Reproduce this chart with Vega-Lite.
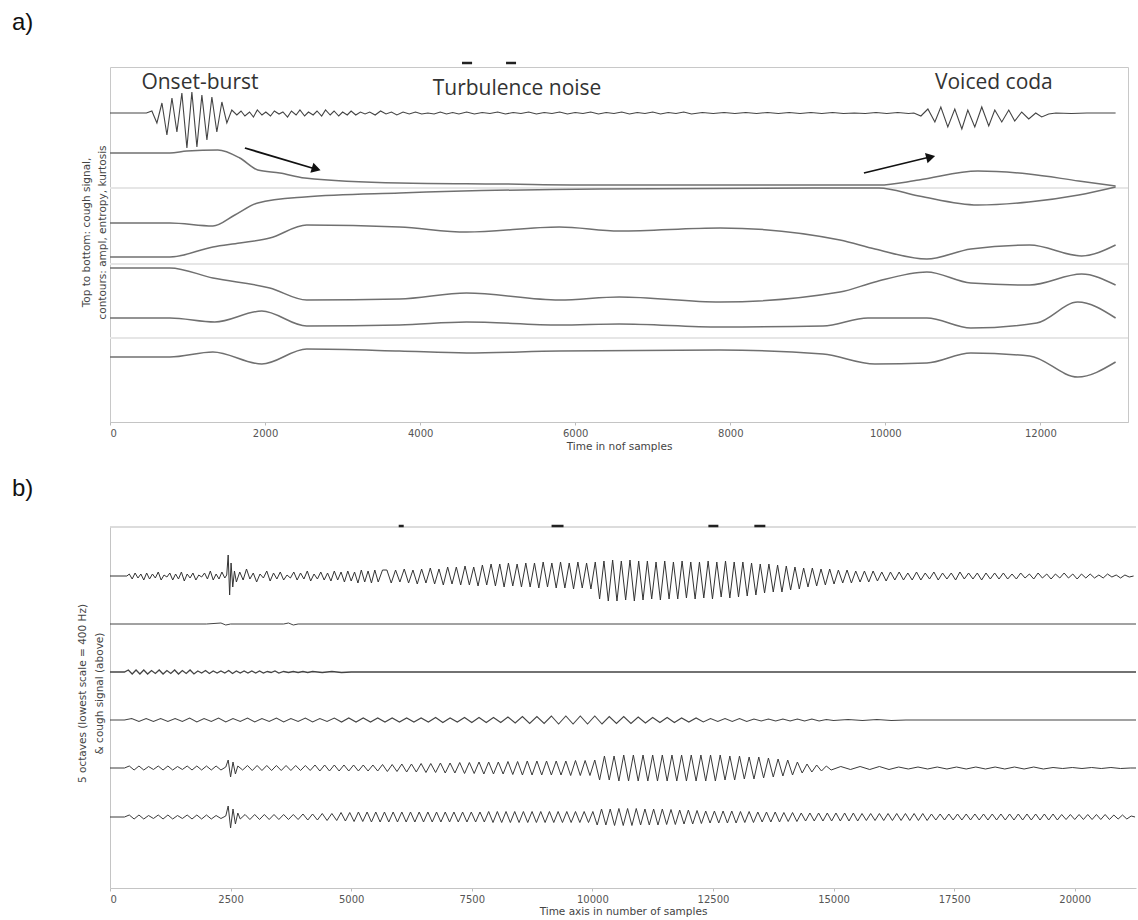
{
"$schema": "https://vega.github.io/schema/vega-lite/v6.json",
"autosize": {"type": "pad"},
"padding": {"left": 11, "top": 10, "right": 0, "bottom": 0},
"background": "white",
"bounds": "flush",
"spacing": 105,
"config": {
  "font": "DejaVu Sans",
  "axis": {"labelFont": "DejaVu Sans", "labelFontSize": 10, "labelColor": "#555", "titleFont": "DejaVu Sans", "titleFontSize": 10.5, "titleFontWeight": "normal", "titleColor": "#444", "tickColor": "#bbb", "domainColor": "#c4c4c4", "grid": false, "tickSize": 3, "labelPadding": 3}
},
"datasets": {
"asig": [{"x":0,"y":46},{"x":470,"y":46},{"x":540,"y":44},{"x":605,"y":56},{"x":670,"y":36},{"x":734,"y":68},{"x":799,"y":31},{"x":863,"y":65},{"x":927,"y":26},{"x":992,"y":81},{"x":1056,"y":25},{"x":1121,"y":80},{"x":1185,"y":28},{"x":1250,"y":73},{"x":1314,"y":30},{"x":1378,"y":65},{"x":1443,"y":35},{"x":1507,"y":56},{"x":1571,"y":43},{"x":1636,"y":48},
{"x":1690,"y":44},{"x":1740,"y":49},{"x":1800,"y":45},{"x":1850,"y":50},{"x":1900,"y":43},{"x":1960,"y":48},{"x":2010,"y":45},{"x":2070,"y":49},{"x":2120,"y":44},{"x":2180,"y":47},{"x":2230,"y":45},{"x":2290,"y":50},{"x":2340,"y":44},{"x":2400,"y":48},{"x":2450,"y":43},{"x":2510,"y":49},{"x":2560,"y":45},{"x":2620,"y":48},{"x":2670,"y":44},{"x":2730,"y":49},{"x":2780,"y":43},{"x":2840,"y":48},{"x":2890,"y":44},{"x":2950,"y":49},{"x":3000,"y":45},{"x":3060,"y":48},{"x":3110,"y":44},{"x":3170,"y":48},{"x":3230,"y":45},{"x":3290,"y":47},{"x":3350,"y":45},{"x":3420,"y":48},{"x":3490,"y":44},{"x":3560,"y":47},{"x":3630,"y":45},{"x":3700,"y":48},{"x":3780,"y":45},{"x":3860,"y":47},{"x":3940,"y":45},{"x":4020,"y":47},{"x":4100,"y":46},{"x":4180,"y":47},{"x":4260,"y":45},{"x":4340,"y":47},{"x":4420,"y":45.5},{"x":4500,"y":47},{"x":4600,"y":45},{"x":4700,"y":47},{"x":4800,"y":45.5},{"x":4900,"y":46.5},{"x":5000,"y":45},{"x":5100,"y":47},{"x":5200,"y":45.5},{"x":5300,"y":46.5},{"x":5400,"y":45},{"x":5500,"y":47},{"x":5600,"y":45.5},{"x":5700,"y":46.5},{"x":5800,"y":45},{"x":5900,"y":47},{"x":6000,"y":45.5},{"x":6100,"y":46.5},{"x":6200,"y":45},{"x":6300,"y":47},{"x":6400,"y":45.5},{"x":6500,"y":46.5},{"x":6600,"y":45},{"x":6700,"y":47},{"x":6800,"y":45.5},{"x":6900,"y":46.5},{"x":7000,"y":45},{"x":7100,"y":47},{"x":7200,"y":45.5},{"x":7300,"y":46.5},{"x":7400,"y":45},{"x":7500,"y":47},
{"x":7640,"y":45.5},{"x":7780,"y":46.5},{"x":7920,"y":45.5},{"x":8060,"y":46.5},{"x":8200,"y":45.5},{"x":8340,"y":46.5},{"x":8480,"y":45.5},{"x":8620,"y":46.5},{"x":8760,"y":45.5},{"x":8900,"y":46.5},{"x":9040,"y":45.5},{"x":9180,"y":46.5},{"x":9320,"y":45.5},{"x":9460,"y":46.5},{"x":9600,"y":46},{"x":9740,"y":46.5},{"x":9880,"y":45.5},{"x":10020,"y":46.5},{"x":10160,"y":45.5},{"x":10300,"y":46.5},
{"x":10368,"y":46},{"x":10459,"y":49},{"x":10549,"y":42},{"x":10639,"y":55},{"x":10716,"y":40},{"x":10806,"y":60},{"x":10896,"y":42},{"x":10987,"y":62},{"x":11064,"y":43},{"x":11154,"y":60},{"x":11244,"y":40},{"x":11334,"y":59},{"x":11412,"y":43},{"x":11502,"y":55},{"x":11592,"y":43},{"x":11669,"y":54},{"x":11759,"y":45},{"x":11850,"y":52},{"x":11940,"y":46},{"x":12017,"y":50},{"x":12107,"y":47},{"x":12200,"y":46},{"x":12400,"y":46.5},{"x":12600,"y":46},{"x":12800,"y":46},{"x":12970,"y":46}],
"acont": [
{"k":"L2","x":0,"y":86},{"k":"L2","x":773,"y":86},{"k":"L2","x":992,"y":84},{"k":"L2","x":1391,"y":83},{"k":"L2","x":1674,"y":91},{"k":"L2","x":1906,"y":103},{"k":"L2","x":2190,"y":106},{"k":"L2","x":2512,"y":111},{"k":"L2","x":3735,"y":116},{"k":"L2","x":5023,"y":117},{"k":"L2","x":6311,"y":118},{"k":"L2","x":9918,"y":118},{"k":"L2","x":10433,"y":113},{"k":"L2","x":11193,"y":104},{"k":"L2","x":11850,"y":107},{"k":"L2","x":12494,"y":114},{"k":"L2","x":12970,"y":119},
{"k":"L3","x":0,"y":156},{"k":"L3","x":773,"y":156},{"k":"L3","x":1327,"y":159},{"k":"L3","x":1610,"y":148},{"k":"L3","x":1906,"y":136},{"k":"L3","x":2512,"y":130},{"k":"L3","x":3735,"y":126},{"k":"L3","x":6311,"y":122},{"k":"L3","x":9918,"y":121},{"k":"L3","x":10433,"y":129},{"k":"L3","x":11193,"y":138},{"k":"L3","x":11850,"y":135},{"k":"L3","x":12494,"y":128},{"k":"L3","x":12970,"y":120},
{"k":"L4","x":0,"y":190},{"k":"L4","x":773,"y":190},{"k":"L4","x":1327,"y":180},{"k":"L4","x":1674,"y":176},{"k":"L4","x":2061,"y":171},{"k":"L4","x":2537,"y":158},{"k":"L4","x":3735,"y":160},{"k":"L4","x":4598,"y":165},{"k":"L4","x":5796,"y":160},{"k":"L4","x":6569,"y":164},{"k":"L4","x":7870,"y":161},{"k":"L4","x":9415,"y":173},{"k":"L4","x":9866,"y":182},{"k":"L4","x":10536,"y":192},{"k":"L4","x":11103,"y":182},{"k":"L4","x":11862,"y":178},{"k":"L4","x":12532,"y":189},{"k":"L4","x":12970,"y":178},
{"k":"L5","x":0,"y":201},{"k":"L5","x":773,"y":201},{"k":"L5","x":1327,"y":211},{"k":"L5","x":2061,"y":221},{"k":"L5","x":2537,"y":233},{"k":"L5","x":3735,"y":232},{"k":"L5","x":4598,"y":226},{"k":"L5","x":5796,"y":233},{"k":"L5","x":6569,"y":230},{"k":"L5","x":7870,"y":235},{"k":"L5","x":9415,"y":225},{"k":"L5","x":9866,"y":215},{"k":"L5","x":10536,"y":205},{"k":"L5","x":11103,"y":216},{"k":"L5","x":11862,"y":218},{"k":"L5","x":12532,"y":207},{"k":"L5","x":12970,"y":218},
{"k":"L6","x":0,"y":251},{"k":"L6","x":773,"y":251},{"k":"L6","x":1352,"y":255},{"k":"L6","x":1958,"y":244},{"k":"L6","x":2537,"y":259},{"k":"L6","x":3735,"y":258},{"k":"L6","x":4598,"y":255},{"k":"L6","x":5796,"y":258},{"k":"L6","x":6569,"y":257},{"k":"L6","x":7870,"y":260},{"k":"L6","x":9196,"y":259},{"k":"L6","x":9776,"y":251},{"k":"L6","x":10536,"y":251},{"k":"L6","x":11103,"y":261},{"k":"L6","x":11953,"y":256},{"k":"L6","x":12481,"y":235},{"k":"L6","x":12970,"y":251},
{"k":"L7","x":0,"y":290},{"k":"L7","x":773,"y":290},{"k":"L7","x":1327,"y":285},{"k":"L7","x":1958,"y":297},{"k":"L7","x":2537,"y":282},{"k":"L7","x":3735,"y":284},{"k":"L7","x":4598,"y":286},{"k":"L7","x":5796,"y":284},{"k":"L7","x":7870,"y":283},{"k":"L7","x":9196,"y":287},{"k":"L7","x":9866,"y":297},{"k":"L7","x":10536,"y":296},{"k":"L7","x":11103,"y":286},{"k":"L7","x":11862,"y":289},{"k":"L7","x":12481,"y":310},{"k":"L7","x":12970,"y":295}],
"b1": [{"x":0,"y":49},{"x":350,"y":49},{"x":400,"y":47},{"x":460,"y":52},{"x":520,"y":46},{"x":580,"y":51},{"x":640,"y":47},{"x":700,"y":53},{"x":760,"y":46},{"x":820,"y":52},{"x":880,"y":47},{"x":940,"y":51},{"x":1000,"y":45},{"x":1060,"y":53},{"x":1120,"y":48},{"x":1180,"y":50},{"x":1240,"y":46},{"x":1300,"y":53},{"x":1360,"y":47},{"x":1420,"y":52},{"x":1480,"y":45},{"x":1540,"y":54},{"x":1600,"y":47},{"x":1660,"y":51},{"x":1720,"y":46},{"x":1780,"y":53},{"x":1840,"y":48},{"x":1900,"y":50},{"x":1960,"y":46},{"x":2020,"y":52},{"x":2080,"y":44},{"x":2140,"y":53},{"x":2200,"y":47},{"x":2260,"y":52},{"x":2320,"y":45},{"x":2380,"y":51},
{"x":2420,"y":48},{"x":2450,"y":28},{"x":2480,"y":68},{"x":2510,"y":36},{"x":2545,"y":60},{"x":2580,"y":44},{"x":2620,"y":55},
{"x":2690,"y":45},{"x":2760,"y":53},{"x":2830,"y":42},{"x":2900,"y":52},{"x":2970,"y":46},{"x":3040,"y":55},{"x":3110,"y":47},{"x":3180,"y":51},{"x":3250,"y":44},{"x":3320,"y":54},{"x":3390,"y":46},{"x":3460,"y":52},{"x":3530,"y":45},{"x":3600,"y":53},{"x":3670,"y":48},{"x":3740,"y":51},{"x":3810,"y":45},{"x":3880,"y":53},{"x":3950,"y":46},{"x":4020,"y":52},{"x":4090,"y":44},{"x":4160,"y":54},{"x":4230,"y":47},{"x":4300,"y":52},{"x":4370,"y":45},{"x":4440,"y":53},{"x":4510,"y":46},{"x":4580,"y":54},{"x":4650,"y":44},{"x":4720,"y":53},{"x":4790,"y":45},{"x":4860,"y":55},{"x":4930,"y":44},{"x":5000,"y":54},{"x":5070,"y":45},{"x":5140,"y":56},{"x":5210,"y":43},{"x":5280,"y":55},{"x":5350,"y":44},{"x":5420,"y":56},{"x":5490,"y":43},{"x":5560,"y":55},{"x":5650,"y":43},
{"x":5740,"y":43},{"x":5830,"y":56},{"x":5920,"y":43},{"x":6010,"y":55},{"x":6100,"y":42},{"x":6190,"y":56},{"x":6280,"y":43},{"x":6370,"y":57},{"x":6460,"y":42},{"x":6550,"y":56},{"x":6640,"y":41},{"x":6730,"y":57},{"x":6820,"y":42},{"x":6910,"y":58},{"x":7000,"y":40},{"x":7090,"y":57},{"x":7180,"y":40},{"x":7270,"y":58},{"x":7360,"y":39},{"x":7450,"y":58},{"x":7540,"y":40},{"x":7630,"y":59},{"x":7720,"y":38},{"x":7810,"y":58},{"x":7900,"y":37},{"x":7990,"y":59},{"x":8080,"y":37},{"x":8170,"y":60},{"x":8260,"y":36},{"x":8350,"y":59},{"x":8440,"y":37},{"x":8530,"y":60},{"x":8620,"y":36},{"x":8710,"y":60},{"x":8800,"y":36},{"x":8890,"y":61},{"x":8980,"y":35},{"x":9070,"y":60},{"x":9160,"y":36},{"x":9250,"y":61},{"x":9340,"y":35},{"x":9430,"y":61},{"x":9520,"y":36},{"x":9610,"y":62},{"x":9700,"y":35},{"x":9790,"y":61},{"x":9880,"y":36},{"x":9970,"y":62},{"x":10060,"y":35},{"x":10150,"y":72},{"x":10240,"y":34},{"x":10330,"y":74},{"x":10420,"y":33},{"x":10510,"y":74},{"x":10600,"y":34},{"x":10690,"y":73},{"x":10780,"y":33},{"x":10870,"y":74},{"x":10960,"y":34},{"x":11050,"y":73},{"x":11140,"y":34},{"x":11230,"y":72},{"x":11320,"y":35},{"x":11410,"y":73},{"x":11500,"y":34},{"x":11590,"y":72},{"x":11680,"y":35},{"x":11770,"y":72},{"x":11860,"y":34},{"x":11950,"y":71},{"x":12040,"y":35},{"x":12130,"y":72},{"x":12220,"y":35},{"x":12310,"y":71},{"x":12400,"y":34},{"x":12490,"y":72},{"x":12580,"y":35},{"x":12670,"y":70},{"x":12760,"y":34},{"x":12850,"y":71},{"x":12940,"y":35},{"x":13030,"y":70},{"x":13120,"y":35},{"x":13210,"y":69},{"x":13300,"y":36},{"x":13390,"y":68},{"x":13480,"y":37},{"x":13570,"y":66},{"x":13660,"y":37},{"x":13750,"y":65},{"x":13840,"y":38},{"x":13930,"y":65},{"x":14020,"y":39},{"x":14110,"y":63},{"x":14200,"y":40},{"x":14290,"y":62},{"x":14380,"y":41},{"x":14470,"y":60},{"x":14560,"y":41},{"x":14650,"y":59},{"x":14740,"y":42},{"x":14830,"y":58},{"x":14920,"y":42},{"x":15010,"y":57},{"x":15100,"y":43},{"x":15190,"y":56},{"x":15280,"y":43},{"x":15370,"y":56},{"x":15460,"y":44},{"x":15550,"y":55},{"x":15640,"y":44},{"x":15730,"y":55},{"x":15820,"y":44},{"x":15910,"y":54},{"x":16000,"y":45},{"x":16090,"y":54},{"x":16180,"y":45},{"x":16270,"y":53},{"x":16360,"y":45},{"x":16450,"y":53},{"x":16540,"y":46},{"x":16630,"y":53},{"x":16720,"y":45},{"x":16810,"y":53},{"x":16900,"y":46},{"x":16990,"y":52},{"x":17080,"y":45},{"x":17170,"y":53},{"x":17260,"y":46},{"x":17350,"y":52},{"x":17440,"y":46},{"x":17530,"y":53},{"x":17620,"y":45},{"x":17710,"y":52},{"x":17800,"y":46},{"x":17890,"y":52},{"x":17980,"y":46},{"x":18070,"y":53},{"x":18160,"y":46},{"x":18250,"y":52},{"x":18340,"y":46},{"x":18430,"y":52},{"x":18520,"y":46},{"x":18610,"y":52},{"x":18700,"y":47},{"x":18790,"y":52},{"x":18880,"y":46},{"x":18970,"y":51},{"x":19060,"y":47},{"x":19150,"y":52},{"x":19240,"y":46},{"x":19330,"y":51},{"x":19420,"y":47},{"x":19510,"y":52},{"x":19600,"y":47},{"x":19690,"y":51},{"x":19780,"y":46},{"x":19870,"y":51},{"x":19960,"y":47},{"x":20050,"y":52},{"x":20140,"y":47},{"x":20230,"y":51},{"x":20320,"y":47},{"x":20410,"y":51},{"x":20500,"y":48},{"x":20590,"y":51},{"x":20680,"y":47},{"x":20770,"y":50},{"x":20860,"y":48},{"x":20950,"y":51},{"x":21040,"y":48},{"x":21130,"y":50},{"x":21220,"y":49}],
"b2": [{"x":0,"y":97},{"x":2000,"y":97},{"x":2300,"y":96},{"x":2400,"y":98},{"x":2500,"y":97},{"x":3600,"y":97},{"x":3700,"y":96},{"x":3800,"y":98},{"x":3900,"y":97},{"x":21270,"y":97}],
"b3": [{"x":0,"y":145},{"x":300,"y":145},{"x":380,"y":143},{"x":460,"y":147},{"x":540,"y":143},{"x":620,"y":147},{"x":700,"y":143},{"x":780,"y":147},{"x":860,"y":143.5},{"x":940,"y":146.5},{"x":1020,"y":143},{"x":1100,"y":147},{"x":1180,"y":143.5},{"x":1260,"y":146.5},{"x":1340,"y":143},{"x":1420,"y":147},{"x":1500,"y":143.5},{"x":1580,"y":146.5},{"x":1660,"y":143},{"x":1740,"y":147},{"x":1820,"y":144},{"x":1900,"y":146},{"x":1980,"y":143.5},{"x":2060,"y":146.5},{"x":2140,"y":144},{"x":2220,"y":146},{"x":2300,"y":144},{"x":2380,"y":146},{"x":2460,"y":143.5},{"x":2540,"y":146.5},{"x":2620,"y":144},{"x":2700,"y":146},{"x":2780,"y":144},{"x":2860,"y":146},{"x":2940,"y":144},{"x":3020,"y":146},{"x":3100,"y":144},{"x":3180,"y":146},{"x":3260,"y":144.5},{"x":3340,"y":145.5},{"x":3420,"y":144},{"x":3500,"y":146},{"x":3600,"y":144.5},{"x":3700,"y":145.5},{"x":3800,"y":144.5},{"x":3900,"y":145.5},{"x":4000,"y":144.5},{"x":4100,"y":145.5},{"x":4200,"y":144.5},{"x":4400,"y":145.5},{"x":4600,"y":144.5},{"x":4800,"y":145.5},{"x":5000,"y":145},{"x":21270,"y":145}],
"b4": [{"x":0,"y":193},{"x":300,"y":193},{"x":450,"y":191.5},{"x":600,"y":194.5},{"x":750,"y":191.5},{"x":900,"y":194.5},{"x":1050,"y":191.5},{"x":1200,"y":194.5},{"x":1350,"y":191.5},{"x":1500,"y":194.5},{"x":1650,"y":191},{"x":1800,"y":195},{"x":1950,"y":191.5},{"x":2100,"y":194.5},{"x":2250,"y":191},{"x":2400,"y":195},{"x":2550,"y":191.5},{"x":2700,"y":194.5},{"x":2850,"y":191},{"x":3000,"y":195},{"x":3150,"y":191.5},{"x":3300,"y":194.5},{"x":3450,"y":191},{"x":3600,"y":195},{"x":3750,"y":191.5},{"x":3900,"y":194.5},{"x":4050,"y":191},{"x":4200,"y":195},{"x":4350,"y":191.5},{"x":4500,"y":194.5},{"x":4650,"y":191},{"x":4800,"y":195},{"x":4950,"y":191},{"x":5100,"y":195},{"x":5250,"y":191},{"x":5400,"y":195},{"x":5550,"y":191},{"x":5700,"y":195},{"x":5850,"y":191},{"x":6000,"y":195},{"x":6150,"y":191},{"x":6300,"y":195},{"x":6450,"y":191},{"x":6600,"y":195},{"x":6750,"y":190.5},{"x":6900,"y":195.5},{"x":7050,"y":191},{"x":7200,"y":195},{"x":7350,"y":190.5},{"x":7500,"y":195.5},{"x":7650,"y":190.5},{"x":7800,"y":195.5},{"x":7950,"y":190.5},{"x":8100,"y":195.5},{"x":8250,"y":190},{"x":8400,"y":196},{"x":8550,"y":189.5},{"x":8700,"y":196.5},{"x":8850,"y":189.5},{"x":9000,"y":196.5},{"x":9150,"y":189},{"x":9300,"y":197},{"x":9450,"y":189},{"x":9600,"y":197},{"x":9750,"y":189},{"x":9900,"y":197},{"x":10050,"y":189},{"x":10200,"y":197},{"x":10350,"y":189.5},{"x":10500,"y":196.5},{"x":10650,"y":189.5},{"x":10800,"y":196.5},{"x":10950,"y":190},{"x":11100,"y":196},{"x":11250,"y":190.5},{"x":11400,"y":195.5},{"x":11550,"y":190.5},{"x":11700,"y":195.5},{"x":11850,"y":191},{"x":12000,"y":195},{"x":12150,"y":191},{"x":12300,"y":195},{"x":12450,"y":191.5},{"x":12600,"y":194.5},{"x":12750,"y":191.5},{"x":12900,"y":194.5},{"x":13050,"y":191.5},{"x":13200,"y":194.5},{"x":13350,"y":192},{"x":13500,"y":194},{"x":13650,"y":192},{"x":13800,"y":194},{"x":13950,"y":192},{"x":14100,"y":194},{"x":14250,"y":192},{"x":14400,"y":194},{"x":14550,"y":192},{"x":14700,"y":194},{"x":14850,"y":192.5},{"x":15000,"y":193.5},{"x":15300,"y":192.5},{"x":15600,"y":193.5},{"x":15900,"y":192.5},{"x":16200,"y":193.5},{"x":16500,"y":193},{"x":21270,"y":193}],
"b5": [{"x":0,"y":241},{"x":300,"y":241},{"x":400,"y":239},{"x":500,"y":243},{"x":600,"y":239},{"x":700,"y":243},{"x":800,"y":239.5},{"x":900,"y":242.5},{"x":1000,"y":239},{"x":1100,"y":243},{"x":1200,"y":239},{"x":1300,"y":243},{"x":1400,"y":239.5},{"x":1500,"y":242.5},{"x":1600,"y":239},{"x":1700,"y":243},{"x":1800,"y":239},{"x":1900,"y":243},{"x":2000,"y":239},{"x":2100,"y":243},{"x":2200,"y":239},{"x":2300,"y":243},{"x":2400,"y":240},
{"x":2450,"y":233},{"x":2500,"y":250},{"x":2550,"y":235},{"x":2600,"y":247},{"x":2650,"y":239},
{"x":2750,"y":243},{"x":2850,"y":238.5},{"x":2950,"y":243.5},{"x":3050,"y":238.5},{"x":3150,"y":243.5},{"x":3250,"y":238.5},{"x":3350,"y":243.5},{"x":3450,"y":238.5},{"x":3550,"y":243.5},{"x":3650,"y":238.5},{"x":3750,"y":243.5},{"x":3850,"y":238.5},{"x":3950,"y":243.5},{"x":4050,"y":238.5},{"x":4150,"y":243.5},{"x":4250,"y":238},{"x":4350,"y":244},{"x":4450,"y":238},{"x":4550,"y":244},{"x":4650,"y":238},{"x":4750,"y":244},{"x":4850,"y":238},{"x":4950,"y":244},{"x":5050,"y":238},{"x":5150,"y":244},{"x":5250,"y":238},{"x":5350,"y":244},{"x":5450,"y":238},{"x":5550,"y":244},{"x":5650,"y":237.5},{"x":5750,"y":244.5},{"x":5850,"y":237.5},{"x":5950,"y":244.5},
{"x":6050,"y":237},{"x":6150,"y":245},{"x":6250,"y":237},{"x":6350,"y":245},{"x":6450,"y":236.5},{"x":6550,"y":245.5},{"x":6650,"y":236.5},{"x":6750,"y":245.5},{"x":6850,"y":236},{"x":6950,"y":246},{"x":7050,"y":236},{"x":7150,"y":246},{"x":7250,"y":235.5},{"x":7350,"y":246.5},{"x":7450,"y":235.5},{"x":7550,"y":246.5},{"x":7650,"y":235},{"x":7750,"y":247},{"x":7850,"y":235},{"x":7950,"y":247},{"x":8050,"y":235},{"x":8150,"y":247},{"x":8250,"y":234.5},{"x":8350,"y":247.5},{"x":8450,"y":234.5},
{"x":8550,"y":248},{"x":8650,"y":234},{"x":8750,"y":248},{"x":8850,"y":234},{"x":8950,"y":248},{"x":9050,"y":234},{"x":9150,"y":248},{"x":9250,"y":234},{"x":9350,"y":248},{"x":9450,"y":234},{"x":9550,"y":248.5},{"x":9650,"y":233.5},{"x":9750,"y":248.5},{"x":9850,"y":233.5},{"x":9950,"y":248.5},{"x":10050,"y":233},
{"x":10150,"y":253},{"x":10250,"y":229},{"x":10350,"y":253},{"x":10450,"y":229},{"x":10550,"y":254},{"x":10650,"y":228},{"x":10750,"y":254},{"x":10850,"y":228},{"x":10950,"y":254},{"x":11050,"y":228},{"x":11150,"y":254},{"x":11250,"y":228},{"x":11350,"y":254},{"x":11450,"y":228},{"x":11550,"y":254},{"x":11650,"y":228},{"x":11750,"y":254},{"x":11850,"y":228},{"x":11950,"y":254},{"x":12050,"y":228},{"x":12150,"y":254},{"x":12250,"y":228},{"x":12350,"y":254},{"x":12450,"y":228},{"x":12550,"y":254},{"x":12650,"y":228},{"x":12750,"y":253},{"x":12850,"y":229},{"x":12950,"y":253},{"x":13050,"y":229},{"x":13150,"y":252},{"x":13250,"y":230},{"x":13350,"y":252},{"x":13450,"y":230},{"x":13550,"y":251},{"x":13650,"y":231},{"x":13750,"y":250},{"x":13850,"y":232},
{"x":13950,"y":249},{"x":14050,"y":233},{"x":14150,"y":248},{"x":14250,"y":235},{"x":14350,"y":246},{"x":14450,"y":237},{"x":14550,"y":245},{"x":14650,"y":238},{"x":14750,"y":244},{"x":14850,"y":239},{"x":14950,"y":243},
{"x":15150,"y":239.5},{"x":15350,"y":242.5},{"x":15550,"y":239.5},{"x":15750,"y":242.5},{"x":15950,"y":239.5},{"x":16150,"y":242.5},{"x":16350,"y":240},{"x":16550,"y":242},{"x":16750,"y":240},{"x":16950,"y":242},{"x":17150,"y":240},{"x":17350,"y":242},{"x":17550,"y":240},{"x":17750,"y":242},{"x":17950,"y":240},{"x":18150,"y":242},{"x":18350,"y":240},{"x":18550,"y":242},{"x":18750,"y":240},{"x":18950,"y":242},{"x":19150,"y":240},{"x":19350,"y":242},{"x":19550,"y":240.5},{"x":19750,"y":241.5},{"x":19950,"y":240.5},{"x":20150,"y":241.5},{"x":20350,"y":240.5},{"x":20550,"y":241.5},{"x":20750,"y":240.5},{"x":20950,"y":241.5},{"x":21150,"y":241},{"x":21270,"y":241}],
"b6": [{"x":0,"y":290},{"x":300,"y":290},{"x":400,"y":288},{"x":500,"y":292},{"x":600,"y":288},{"x":700,"y":292},{"x":800,"y":288.5},{"x":900,"y":291.5},{"x":1000,"y":288},{"x":1100,"y":292},{"x":1200,"y":288},{"x":1300,"y":292},{"x":1400,"y":288.5},{"x":1500,"y":291.5},{"x":1600,"y":288},{"x":1700,"y":292},{"x":1800,"y":288},{"x":1900,"y":292},{"x":2000,"y":288},{"x":2100,"y":292},{"x":2200,"y":288.5},{"x":2300,"y":291.5},{"x":2400,"y":289},
{"x":2450,"y":279},{"x":2500,"y":301},{"x":2550,"y":282},{"x":2600,"y":297},{"x":2650,"y":286},{"x":2700,"y":292},
{"x":2800,"y":287.5},{"x":2900,"y":292.5},{"x":3000,"y":287.5},{"x":3100,"y":292.5},{"x":3200,"y":287.5},{"x":3300,"y":292.5},{"x":3400,"y":287.5},{"x":3500,"y":292.5},{"x":3600,"y":287.5},{"x":3700,"y":292.5},{"x":3800,"y":287.5},{"x":3900,"y":292.5},{"x":4000,"y":287},{"x":4100,"y":293},{"x":4200,"y":287},{"x":4300,"y":293},{"x":4400,"y":286.5},{"x":4500,"y":293.5},{"x":4600,"y":286.5},{"x":4700,"y":293.5},
{"x":4790,"y":285.5},{"x":4880,"y":294},{"x":4970,"y":285.5},{"x":5060,"y":294.5},{"x":5150,"y":285},{"x":5240,"y":294.5},{"x":5330,"y":285},{"x":5420,"y":295},{"x":5510,"y":285},{"x":5600,"y":295},{"x":5690,"y":285},{"x":5780,"y":295},{"x":5870,"y":285},{"x":5960,"y":295},{"x":6050,"y":285},{"x":6140,"y":295},{"x":6230,"y":285},{"x":6320,"y":295},{"x":6410,"y":285},{"x":6500,"y":295},{"x":6590,"y":285},{"x":6680,"y":295},{"x":6770,"y":285},{"x":6860,"y":295},{"x":6950,"y":285},{"x":7040,"y":295},{"x":7130,"y":285},{"x":7220,"y":295},{"x":7310,"y":285},{"x":7400,"y":295},{"x":7490,"y":285},{"x":7580,"y":295},{"x":7670,"y":285},{"x":7760,"y":295},{"x":7850,"y":284.5},{"x":7940,"y":295.5},{"x":8030,"y":284.5},{"x":8120,"y":295.5},{"x":8210,"y":284.5},{"x":8300,"y":295.5},{"x":8390,"y":284.5},{"x":8480,"y":295.5},{"x":8570,"y":284.5},{"x":8660,"y":295.5},{"x":8750,"y":284.5},{"x":8840,"y":295.5},{"x":8930,"y":284.5},{"x":9020,"y":295.5},{"x":9110,"y":284.5},{"x":9200,"y":295.5},{"x":9290,"y":284.5},{"x":9380,"y":295.5},{"x":9470,"y":284.5},{"x":9560,"y":295.5},{"x":9650,"y":284.5},{"x":9740,"y":295.5},{"x":9830,"y":284.5},{"x":9920,"y":295.5},{"x":10010,"y":284.5},
{"x":10100,"y":298},{"x":10190,"y":282},{"x":10280,"y":298},{"x":10370,"y":282},{"x":10460,"y":298.5},{"x":10550,"y":281.5},{"x":10640,"y":298.5},{"x":10730,"y":281.5},{"x":10820,"y":298.5},{"x":10910,"y":281.5},{"x":11000,"y":298},{"x":11090,"y":282},{"x":11180,"y":298},{"x":11270,"y":282},{"x":11360,"y":298},{"x":11450,"y":282},{"x":11540,"y":297.5},{"x":11630,"y":282.5},{"x":11720,"y":297.5},{"x":11810,"y":283},{"x":11900,"y":297},{"x":11990,"y":283},{"x":12080,"y":297},{"x":12170,"y":283.5},{"x":12260,"y":296.5},
{"x":12350,"y":284},{"x":12440,"y":296},{"x":12530,"y":284},{"x":12620,"y":296},{"x":12710,"y":284},{"x":12800,"y":296},{"x":12890,"y":284},{"x":12980,"y":296},{"x":13070,"y":284.5},{"x":13160,"y":295.5},{"x":13250,"y":284.5},{"x":13340,"y":295.5},{"x":13430,"y":285},{"x":13520,"y":295},{"x":13610,"y":285},{"x":13700,"y":295},{"x":13790,"y":285},{"x":13880,"y":295},{"x":13970,"y":285.5},{"x":14060,"y":294.5},{"x":14150,"y":285.5},{"x":14240,"y":294.5},{"x":14330,"y":286},
{"x":14420,"y":294},{"x":14510,"y":286},{"x":14600,"y":294},{"x":14690,"y":286},{"x":14780,"y":294},{"x":14870,"y":286},{"x":14960,"y":294},{"x":15050,"y":286},{"x":15140,"y":294},{"x":15230,"y":286},{"x":15320,"y":294},{"x":15410,"y":286},{"x":15500,"y":294},{"x":15590,"y":286.5},{"x":15680,"y":293.5},{"x":15770,"y":286.5},{"x":15860,"y":293.5},{"x":15950,"y":286.5},{"x":16040,"y":293.5},{"x":16130,"y":286.5},{"x":16220,"y":293.5},{"x":16310,"y":286.5},{"x":16400,"y":293.5},{"x":16490,"y":286.5},{"x":16580,"y":293.5},{"x":16670,"y":286.5},{"x":16760,"y":293.5},{"x":16850,"y":286.5},{"x":16940,"y":293.5},{"x":17030,"y":287},{"x":17120,"y":293},{"x":17210,"y":287},{"x":17300,"y":293},{"x":17390,"y":287},{"x":17480,"y":293},{"x":17570,"y":287},{"x":17660,"y":293},{"x":17750,"y":287},{"x":17840,"y":293},{"x":17930,"y":287},{"x":18020,"y":293},{"x":18110,"y":287},{"x":18200,"y":293},{"x":18290,"y":287},{"x":18380,"y":293},{"x":18470,"y":287},{"x":18560,"y":293},{"x":18650,"y":287},{"x":18740,"y":293},{"x":18830,"y":287},{"x":18920,"y":293},{"x":19010,"y":287},{"x":19100,"y":293},{"x":19190,"y":287},{"x":19280,"y":293},{"x":19370,"y":287},{"x":19460,"y":293},{"x":19550,"y":287},{"x":19640,"y":293},{"x":19730,"y":287.5},{"x":19820,"y":292.5},{"x":19910,"y":287.5},{"x":20000,"y":292.5},{"x":20090,"y":287.5},{"x":20180,"y":292.5},{"x":20270,"y":287.5},{"x":20360,"y":292.5},{"x":20450,"y":287.5},{"x":20540,"y":292.5},{"x":20630,"y":287.5},{"x":20720,"y":292.5},{"x":20810,"y":288},{"x":20900,"y":292},{"x":20990,"y":288},{"x":21080,"y":292},{"x":21170,"y":289},{"x":21250,"y":290}]
},
"vconcat": [
{
  "width": 1018, "height": 355,
  "view": {"stroke": "#c8c8c8"},
  "title": {"text": "a)", "anchor": "start", "frame": "group", "dx": -98, "offset": 27, "fontSize": 24, "font": "Liberation Sans", "fontWeight": "normal", "color": "#111"},
  "encoding": {
    "x": {"field": "x", "type": "quantitative", "scale": {"domain": [0, 13130], "nice": false, "zero": false},
          "axis": {"title": "Time in nof samples", "values": [0, 2000, 4000, 6000, 8000, 10000, 12000], "format": "d", "titlePadding": 3}},
    "y": {"field": "y", "type": "quantitative", "scale": {"domain": [0, 355], "reverse": true, "nice": false, "zero": false},
          "axis": {"title": ["Top to bottom: cough signal,", "contours: ampl, entropy, kurtosis"], "labels": false, "ticks": false, "domain": false, "titleX": -24, "titleY": 165, "titleAngle": 270, "titleBaseline": "middle", "titleAlign": "center", "titleLineHeight": 16}}
  },
  "layer": [
    {"data": {"values": [{"y": 121, "x": 0, "x2": 13130}, {"y": 197, "x": 0, "x2": 13130}, {"y": 271, "x": 0, "x2": 13130}]},
     "mark": {"type": "rule", "color": "#e6e6e6", "strokeWidth": 2},
     "encoding": {"x2": {"field": "x2"}}},
    {"data": {"values": [{"y": -4, "x": 4540, "x2": 4670}, {"y": -4, "x": 5108, "x2": 5237}]},
     "mark": {"type": "rule", "color": "#222", "strokeWidth": 2.5},
     "encoding": {"x2": {"field": "x2"}}},
    {"data": {"name": "acont"}, "mark": {"type": "line", "color": "#707070", "strokeWidth": 1.5, "interpolate": "monotone"},
     "encoding": {"detail": {"field": "k"}}},
    {"data": {"name": "asig"}, "mark": {"type": "line", "color": "#444", "strokeWidth": 1.1}},
    {"data": {"values": [{"x": 1740, "y": 81, "g": 1}, {"x": 2650, "y": 102, "g": 1}, {"x": 9724, "y": 106, "g": 2}, {"x": 10575, "y": 90, "g": 2}]},
     "mark": {"type": "line", "color": "#111", "strokeWidth": 1.8},
     "encoding": {"detail": {"field": "g"}}},
    {"data": {"values": [{"x": 2660, "y": 102, "a": 17}, {"x": 10585, "y": 90, "a": 346}]},
     "mark": {"type": "point", "shape": "triangle-right", "filled": true, "color": "#111", "size": 110, "opacity": 1},
     "encoding": {"angle": {"field": "a", "type": "quantitative", "scale": null}}},
    {"data": {"values": [{"x": 1160, "y": 16, "t": "Onset-burst"}, {"x": 5250, "y": 22, "t": "Turbulence noise"}, {"x": 11400, "y": 16, "t": "Voiced coda"}]},
     "mark": {"type": "text", "font": "Open Sans", "fontSize": 21, "color": "#333", "align": "center", "baseline": "middle"},
     "encoding": {"text": {"field": "t"}}}
  ]
},
{
  "width": 1026, "height": 361,
  "view": {"stroke": null},
  "title": {"text": "b)", "anchor": "start", "frame": "group", "dx": -98, "offset": 24, "fontSize": 24, "font": "Liberation Sans", "fontWeight": "normal", "color": "#111"},
  "encoding": {
    "x": {"field": "x", "type": "quantitative", "scale": {"domain": [0, 21270], "nice": false, "zero": false},
          "axis": {"title": "Time axis in number of samples", "values": [0, 2500, 5000, 7500, 10000, 12500, 15000, 17500, 20000], "format": "d", "titlePadding": 2}},
    "y": {"field": "y", "type": "quantitative", "scale": {"domain": [0, 361], "reverse": true, "nice": false, "zero": false},
          "axis": {"title": ["5 octaves (lowest scale = 400 Hz)", "& cough signal (above)"], "labels": false, "ticks": false, "domain": true, "titleX": -28, "titleY": 166, "titleAngle": 270, "titleBaseline": "middle", "titleAlign": "center", "titleLineHeight": 17}}
  },
  "layer": [
    {"data": {"values": [{"y": 0, "x": 0, "x2": 21270}]},
     "mark": {"type": "rule", "color": "#d0d0d0", "strokeWidth": 1.5},
     "encoding": {"x2": {"field": "x2"}}},
    {"data": {"values": [{"y": -1, "x": 5985, "x2": 6089}, {"y": -1, "x": 9154, "x2": 9402}, {"y": -1, "x": 12405, "x2": 12612}, {"y": -1, "x": 13358, "x2": 13586}]},
     "mark": {"type": "rule", "color": "#222", "strokeWidth": 2.5},
     "encoding": {"x2": {"field": "x2"}}},
    {"data": {"name": "b2"}, "mark": {"type": "line", "color": "#444", "strokeWidth": 1}},
    {"data": {"name": "b3"}, "mark": {"type": "line", "color": "#444", "strokeWidth": 1.3}},
    {"data": {"name": "b4"}, "mark": {"type": "line", "color": "#444", "strokeWidth": 1.1}},
    {"data": {"name": "b5"}, "mark": {"type": "line", "color": "#3a3a3a", "strokeWidth": 1}},
    {"data": {"name": "b6"}, "mark": {"type": "line", "color": "#3a3a3a", "strokeWidth": 1}},
    {"data": {"name": "b1"}, "mark": {"type": "line", "color": "#333", "strokeWidth": 1}}
  ]
}
]
}
